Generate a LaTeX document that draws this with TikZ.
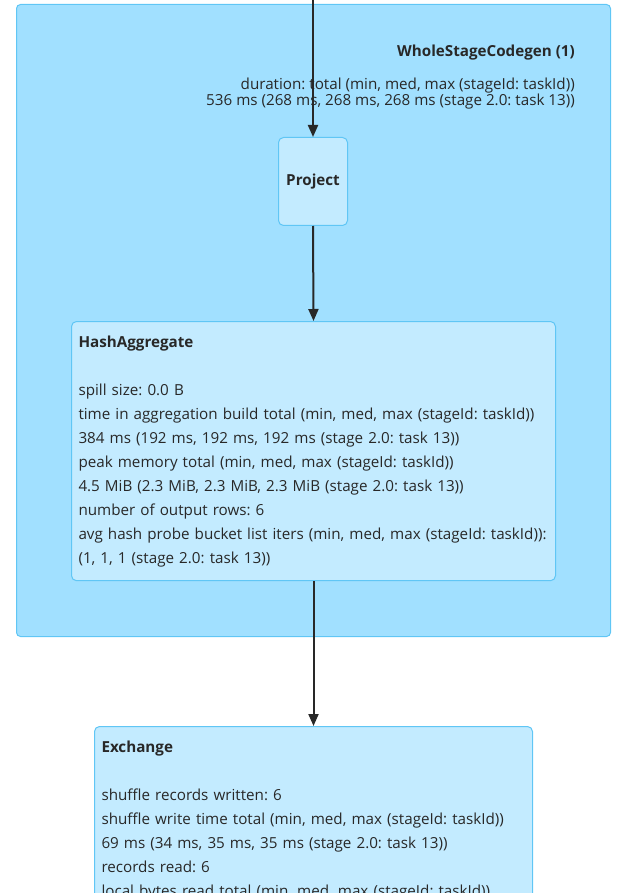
\documentclass[tikz,border=0pt]{standalone}
\usepackage{fontspec}
\setmainfont{Open Sans}
\frenchspacing
\usetikzlibrary{arrows.meta}
\definecolor{clusterfill}{RGB}{161,224,255}
\definecolor{nodefill}{RGB}{195,235,255}
\definecolor{bordo}{RGB}{96,198,245}
\definecolor{testo}{RGB}{40,40,40}
\tikzset{
  cluster/.style={draw=bordo, fill=clusterfill, line width=1pt, rounded corners=4pt,
    minimum width=594pt, minimum height=632pt, anchor=north west, inner sep=0pt},
  opbox/.style={draw=bordo, fill=nodefill, line width=1pt, rounded corners=5pt,
    text=testo, font=\fontsize{15.2}{24}\selectfont, align=left, inner xsep=7pt,
    inner ysep=14pt, anchor=north west},
  freccia/.style={draw=testo, line width=2pt, -{Triangle[width=10pt,length=12pt]}}
}
\begin{document}
\begin{tikzpicture}[x=1pt,y=-1pt]
  \useasboundingbox (0,0) rectangle (623,893);
  \clip (0,0) rectangle (623,893);
  % stage
  \node[cluster] (wsc) at (16,4) {};
  \node[anchor=north east, align=right, text=testo, inner sep=0pt,
    font=\fontsize{15.2}{16}\selectfont] (wsclabel) at (575,45)
    {\textbf{WholeStageCodegen (1)}\\[17pt]
     duration: total (min, med, max (stageId: taskId))\\
     536 ms (268 ms, 268 ms, 268 ms (stage 2.0: task 13))};
  % operatori
  \node[opbox, anchor=north, align=center, inner sep=0pt, minimum width=69pt,
    minimum height=88pt] (project) at (313,137) {\textbf{Project}};
  \node[opbox, text width=470pt] (hashagg) at (71,321)
    {\textbf{HashAggregate}\\[24pt]
     spill size: 0.0 B\\
     time in aggregation build total (min, med, max (stageId: taskId))\\
     384 ms (192 ms, 192 ms, 192 ms (stage 2.0: task 13))\\
     peak memory total (min, med, max (stageId: taskId))\\
     4.5 MiB (2.3 MiB, 2.3 MiB, 2.3 MiB (stage 2.0: task 13))\\
     number of output rows: 6\\
     avg hash probe bucket list iters (min, med, max (stageId: taskId)):\\
     (1, 1, 1 (stage 2.0: task 13))};
  \node[opbox, text width=424pt] (exchange) at (94,726)
    {\textbf{Exchange}\\[24pt]
     shuffle records written: 6\\
     shuffle write time total (min, med, max (stageId: taskId))\\
     69 ms (34 ms, 35 ms, 35 ms (stage 2.0: task 13))\\
     records read: 6\\
     local bytes read total (min, med, max (stageId: taskId))};
  % frecce
  \coordinate (ingresso) at (313,0);
  \draw[freccia] (ingresso) -- (project.north);
  \draw[freccia] (project.south) -- (hashagg.north);
  \draw[freccia] (hashagg.south) -- (exchange.north);
\end{tikzpicture}
\end{document}
